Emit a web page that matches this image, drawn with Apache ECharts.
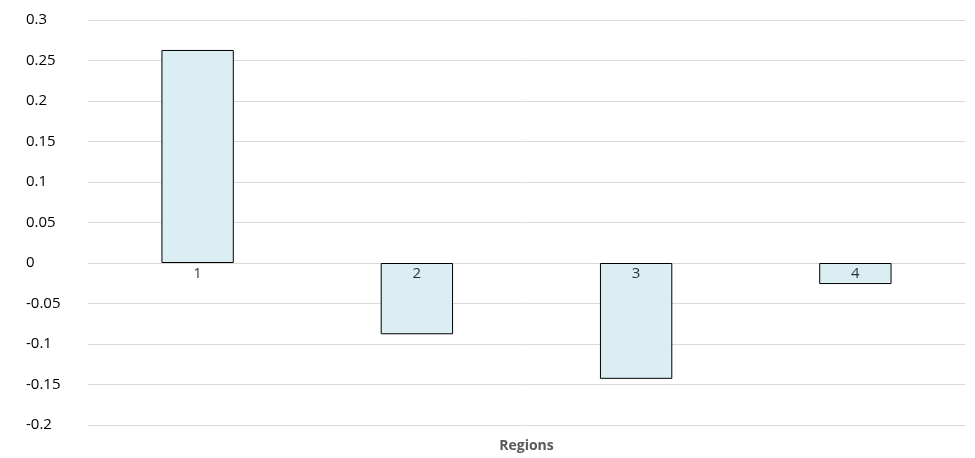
<!DOCTYPE html>
<html>
<head>
<meta charset="utf-8">
<script src="https://cdn.jsdelivr.net/npm/echarts@6/dist/echarts.min.js"></script>
<style>html,body{margin:0;padding:0;background:#fff}#main{width:975px;height:458px}</style>
</head>
<body>
<div id="main"></div>
<script>
var regions = ['1', '2', '3', '4'];
var values = [0.263, -0.088, -0.143, -0.026];

var myChart = echarts.init(document.getElementById('main'));
var option = {
    animation: false,
    grid: {left: 88, right: 10, top: 20, bottom: 33, outerBoundsMode: 'none', containLabel: false},
    xAxis: {
        type: 'category',
        data: regions,
        name: 'Regions',
        nameLocation: 'middle',
        nameGap: 14,
        nameTextStyle: {color: '#595959', fontWeight: 'bold', fontSize: 14, fontFamily: 'Open Sans', verticalAlign: 'top'},
        axisLine: {lineStyle: {color: '#d9d9d9'}},
        axisTick: {show: false},
        axisLabel: {show: false}
    },
    yAxis: {
        type: 'value',
        min: -0.2,
        max: 0.3,
        interval: 0.05,
        axisLabel: {
            color: '#000', fontSize: 15, fontFamily: 'Open Sans', align: 'left', margin: 62,
            formatter: function (v) { return String(Math.round(v * 100) / 100); }
        },
        splitLine: {lineStyle: {color: '#d9d9d9'}}
    },
    series: [{
        type: 'bar',
        data: values,
        barWidth: '33%',
        itemStyle: {color: '#daeef3', borderColor: '#000', borderWidth: 1}
    }, {
        // category labels sitting on the zero line
        type: 'scatter',
        data: regions.map(function () { return 0; }),
        symbolSize: 0,
        silent: true,
        z: 5,
        label: {
            show: true, position: 'bottom', distance: 3,
            formatter: '{b}', color: '#000', fontSize: 15, fontFamily: 'Open Sans',
            textBorderWidth: 0
        }
    }]
};
myChart.setOption(option);
</script>
</body>
</html>
